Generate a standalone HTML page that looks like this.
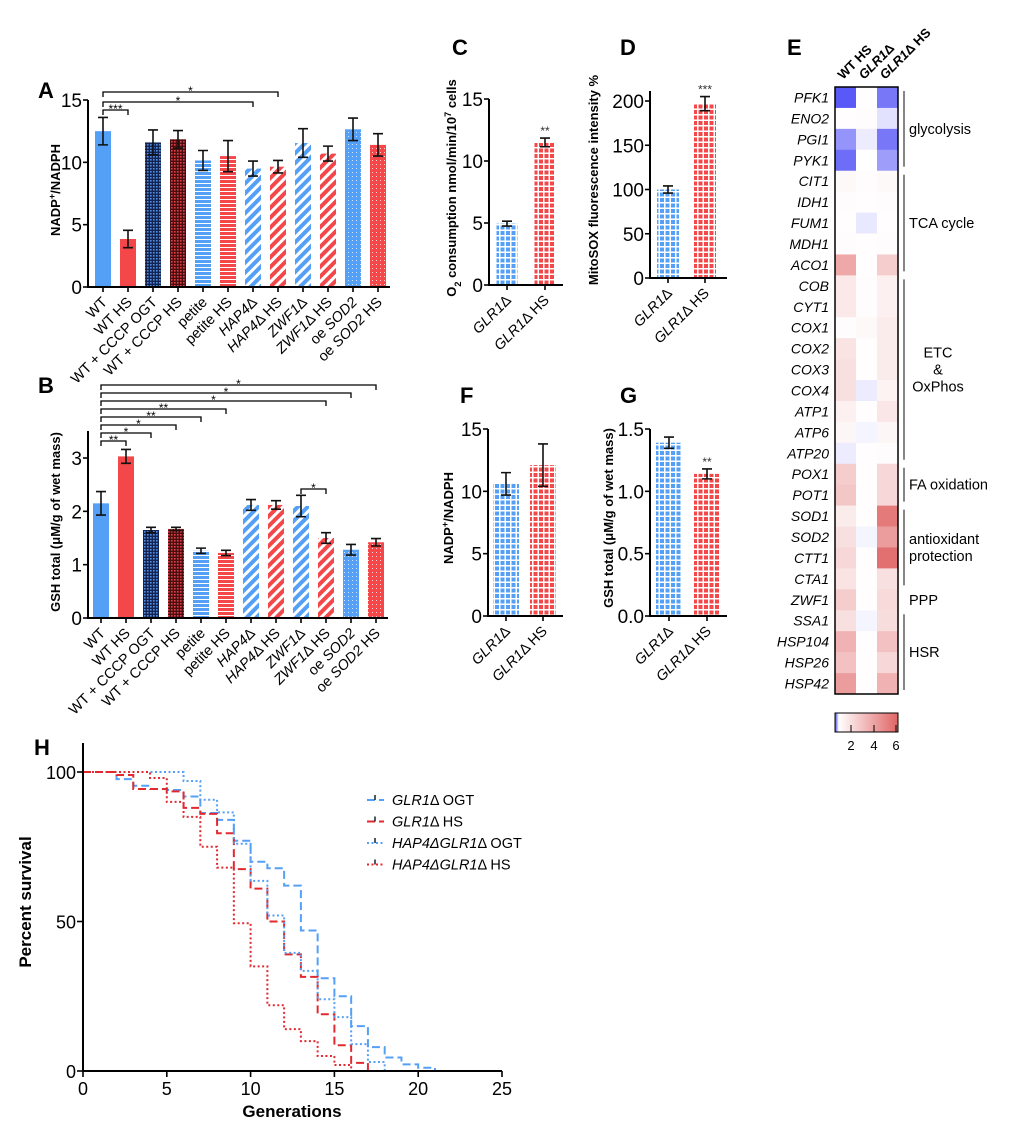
<!DOCTYPE html>
<html><head><meta charset="utf-8">
<style>
html,body{margin:0;padding:0;background:#fff;}
svg{display:block;font-family:"Liberation Sans",Arial,sans-serif;}
</style></head>
<body>
<svg id="fig" width="1020" height="1137" viewBox="0 0 1020 1137" xmlns="http://www.w3.org/2000/svg">
<defs>
  <pattern id="p-checkB" width="3" height="3" patternUnits="userSpaceOnUse"><rect width="3" height="3" fill="#14234f"/><rect width="1.6" height="1.6" fill="#4f8fe6"/></pattern>
  <pattern id="p-checkR" width="3" height="3" patternUnits="userSpaceOnUse"><rect width="3" height="3" fill="#4a0d10"/><rect width="1.6" height="1.6" fill="#e04045"/></pattern>
  <pattern id="p-hB" width="4" height="4" patternUnits="userSpaceOnUse"><rect width="4" height="4" fill="#55a0f7"/><rect y="3" width="4" height="1" fill="#fff"/></pattern>
  <pattern id="p-hR" width="4" height="4" patternUnits="userSpaceOnUse"><rect width="4" height="4" fill="#f4474a"/><rect y="3" width="4" height="1" fill="#fff"/></pattern>
  <pattern id="p-dB" width="7" height="7" patternUnits="userSpaceOnUse" patternTransform="rotate(45)"><rect width="7" height="7" fill="#fff"/><rect width="4" height="7" fill="#55a0f7"/></pattern>
  <pattern id="p-dR" width="7" height="7" patternUnits="userSpaceOnUse" patternTransform="rotate(45)"><rect width="7" height="7" fill="#fff"/><rect width="4" height="7" fill="#f4474a"/></pattern>
  <pattern id="p-oB" width="4" height="4" patternUnits="userSpaceOnUse"><rect width="4" height="4" fill="#55a0f7"/><rect width="1" height="1" fill="#cfe3ff"/></pattern>
  <pattern id="p-oR" width="4" height="4" patternUnits="userSpaceOnUse"><rect width="4" height="4" fill="#f4474a"/><rect width="1" height="1" fill="#ffd0d0"/></pattern>
  <pattern id="p-gB" width="5.5" height="5.5" patternUnits="userSpaceOnUse"><rect width="5.5" height="5.5" fill="#fff"/><rect width="4" height="4" fill="#55a0f7"/></pattern>
  <pattern id="p-gR" width="5.5" height="5.5" patternUnits="userSpaceOnUse"><rect width="5.5" height="5.5" fill="#fff"/><rect width="4" height="4" fill="#f4474a"/></pattern>
  <linearGradient id="cbar" x1="0" x2="1" y1="0" y2="0">
    <stop offset="0" stop-color="#3c3cf5"/><stop offset="0.06" stop-color="#fff"/><stop offset="1" stop-color="#e06464"/>
  </linearGradient>
</defs>
</svg>
<script>
// ---------- DATA ----------
const catA = ["WT","WT HS","WT + CCCP OGT","WT + CCCP HS","petite","petite HS","HAP4Δ","HAP4Δ HS","ZWF1Δ","ZWF1Δ HS","oe SOD2","oe SOD2 HS"];
const valA = [12.5,3.85,11.6,11.85,10.15,10.5,9.5,9.65,11.55,10.7,12.65,11.4];
const errA = [1.1,0.7,1.0,0.7,0.8,1.25,0.6,0.5,1.15,0.6,0.9,0.9];
const valB = [2.15,3.03,1.65,1.67,1.26,1.22,2.12,2.12,2.1,1.5,1.28,1.42];
const errB = [0.22,0.13,0.05,0.03,0.05,0.05,0.1,0.08,0.2,0.1,0.1,0.07];
const catCG = ["GLR1Δ","GLR1Δ HS"];
const valC = [4.95,11.5]; const errC=[0.2,0.35];
const valD = [100,197]; const errD=[4,8];
const valF = [10.6,12.1]; const errF=[0.9,1.7];
const valG = [1.39,1.14]; const errG=[0.045,0.04];
const ticksA=[0,5,10,15], ticksB=[0,1,2,3], ticksC=[0,5,10,15], ticksD=[0,50,100,150,200], ticksG=[0,0.5,1.0,1.5];
const genes = ["PFK1","ENO2","PGI1","PYK1","CIT1","IDH1","FUM1","MDH1","ACO1","COB","CYT1","COX1","COX2","COX3","COX4","ATP1","ATP6","ATP20","POX1","POT1","SOD1","SOD2","CTT1","CTA1","ZWF1","SSA1","HSP104","HSP26","HSP42"];
const heatWTHS = [0.15,1.05,0.45,0.25,1.2,1.1,1.05,1.1,3.8,1.7,1.7,1.1,1.9,2.0,2.0,1.5,1.3,0.9,2.6,2.8,1.6,2.0,2.3,1.9,2.6,2.0,3.5,3.0,4.2];
const heatGLR = [1.05,1.1,0.9,1.0,1.1,1.05,0.88,1.05,1.05,1.1,1.1,1.2,1.05,1.05,0.9,1.05,0.95,1.05,1.05,1.05,1.05,0.95,1.05,1.05,1.05,0.95,1.05,1.05,1.05];
const heatGLRHS = [0.3,0.85,0.3,0.5,1.2,1.1,1.05,1.1,2.6,1.5,1.5,1.6,1.6,1.6,1.4,1.8,1.3,1.1,2.3,2.3,5.3,4.2,5.6,2.0,2.2,2.1,3.0,2.3,3.5];
const survGLR_OGT = [100,100,97.6,95.4,94.3,94,91.8,86.3,84,77,70,67.8,62,47,31,25,15,8,4.5,2.2,1.1];
const survGLR_HS = [100,100,99,94.3,94.3,93.5,88,86,79.5,67.5,61,50,39,31.5,19,8.6,2.7];
const survHAP_OGT = [100,100,100,100,100,100,97,90.7,86.5,76,63.6,52,39.5,33.5,24,18,9,3];
const survHAP_HS = [100,100,100,100,98,90,85,75,68,49.4,35,22,14,10,5,2];

// ---------- HELPERS ----------
const NS="http://www.w3.org/2000/svg";
const svg=document.getElementById('fig');
function mk(tag,attrs,parent){const e=document.createElementNS(NS,tag);for(const k in attrs)e.setAttribute(k,attrs[k]);(parent||svg).appendChild(e);return e;}
function txt(s,attrs,parent){const e=mk('text',attrs,parent);e.textContent=s;return e;}
function line(x1,y1,x2,y2,w,parent){return mk('line',{x1,y1,x2,y2,stroke:'#000','stroke-width':w||1.5},parent);}
function richLabel(label,x,y,size,parent){
  const t=mk('text',{x:0,y:0,'font-size':size,'text-anchor':'end',transform:`translate(${x},${y}) rotate(-45)`},parent);
  const m=label.match(/^(oe )?([A-Z0-9]+\d)(Δ?)(.*)$/);
  const italicGene = m && /\d/.test(m[2]) ;
  if(italicGene){
    if(m[1]){const a=mk('tspan',{},t);a.textContent=m[1];}
    const b=mk('tspan',{'font-style':'italic'},t);b.textContent=m[2];
    const c=mk('tspan',{},t);c.textContent=m[3]+m[4];
  } else t.textContent=label;
  
  
  return t;
}
function letter(s,x,y){const t=txt(s,{x,y,'font-size':22,'font-weight':'bold'});
  
  }
function yTitle(parts,x,y,size){
  const t=mk('text',{x:0,y:0,'font-size':size,'font-weight':'bold','text-anchor':'middle',transform:`translate(${x},${y}) rotate(-90)`});
  parts.forEach(p=>{const s=mk('tspan',p.sup?{'baseline-shift':'super','font-size':size*0.7}:(p.sub?{'baseline-shift':'sub','font-size':size*0.7}:{}),t);s.textContent=p.t;});
  
  
}
function bracket(x1,x2,y,stars,g){
  const p=mk('path',{d:`M${x1},${y+5}V${y}H${x2}V${y+5}`,fill:'none',stroke:'#000','stroke-width':1.3},g);
  
  
  const t=txt(stars,{x:(x1+x2)/2,y:y+3,'font-size':12,'text-anchor':'middle'},g);
  
  
}
function barChart(o){
  const g=mk('g',{});
  
  
  const ys=v=>o.y0-(v-o.vmin)/(o.vmax-o.vmin)*(o.y0-o.y1);
  const xs=i=>o.xStart+i*o.step;
  o.vals.forEach((v,i)=>{
    const r=mk('rect',{x:xs(i)-o.bw/2,y:ys(v),width:o.bw,height:o.y0-ys(v),fill:o.fills[i]},g);
    
    
    const e=o.errs[i];
    const ep=mk('path',{d:`M${xs(i)},${ys(v+e)}V${ys(v-e)}M${xs(i)-5},${ys(v+e)}H${xs(i)+5}M${xs(i)-5},${ys(v-e)}H${xs(i)+5}`,stroke:'#111','stroke-width':1.6,fill:'none'},g);
    
    
  });
  const ax=mk('path',{d:`M${o.ax},${o.axTop}V${o.y0}H${o.axEnd}`,stroke:'#000','stroke-width':2,fill:'none'},g);
  
  
  o.ticks.forEach((t,k)=>{
    line(o.ax-5,ys(t),o.ax,ys(t),1.6,g);
    const lb=txt(o.tickLabels?o.tickLabels[k]:String(t),{x:o.ax-6,y:ys(t)+7,'font-size':o.tickSize||19,'text-anchor':'end'},g);
    
    
  });
  o.cats.forEach((c,i)=>{line(xs(i),o.y0,xs(i),o.y0+5,1.6,g);richLabel(c,xs(i)+5,o.y0+16,o.labelSize||14.5,g);});
  if(o.stars) o.stars.forEach(s=>{const t=txt(s.s,{x:xs(s.i),y:ys(o.vals[s.i]+o.errs[s.i])-3,'font-size':12,'text-anchor':'middle',fill:'#333'},g);
    
    });
  return {g,xs,ys};
}
const fills12=["#55a0f7","#f4474a","url(#p-checkB)","url(#p-checkR)","url(#p-hB)","url(#p-hR)","url(#p-dB)","url(#p-dR)","url(#p-dB)","url(#p-dR)","url(#p-oB)","url(#p-oR)"];

// ---------- PANEL A ----------
letter("A",38,98);
const A=barChart({name:'panel-a-chart',cats:catA,vals:valA,errs:errA,fills:fills12,vmin:0,vmax:15,y0:287,y1:100,ax:88,axTop:100,axEnd:390,xStart:103,step:25,bw:16,ticks:ticksA});
bracket(A.xs(0),A.xs(7),92,"*",A.g);
bracket(A.xs(0),A.xs(6),102,"*",A.g);
bracket(A.xs(0),A.xs(1),110,"***",A.g);
yTitle([{t:"NADP"},{t:"+",sup:1},{t:"/NADPH"}],60,190,13);

// ---------- PANEL B ----------
letter("B",38,393);
const B=barChart({name:'panel-b-chart',cats:catA,vals:valB,errs:errB,fills:fills12,vmin:0,vmax:3,y0:618,y1:458,ax:88,axTop:431,axEnd:388,xStart:101,step:25,bw:16,ticks:ticksB});
[[11,385],[10,393],[9,401],[5,409],[4,417],[3,425],[2,433]].forEach(([i,y],k)=>bracket(B.xs(0),B.xs(i),y,(i==5||i==4)?"**":"*",B.g));
bracket(B.xs(0),B.xs(1),441,"**",B.g);
bracket(B.xs(8),B.xs(9),489,"*",B.g);
yTitle([{t:"GSH total (μM/g of wet mass)"}],60,522,13);

// ---------- PANEL C ----------
letter("C",452,55);
barChart({name:'panel-c-chart',cats:catCG,vals:valC,errs:errC,fills:["url(#p-gB)","url(#p-gR)"],vmin:0,vmax:15,y0:285,y1:99,ax:489,axTop:99,axEnd:563,xStart:507,step:38,bw:21,ticks:ticksC,stars:[{i:1,s:"**"}]});
yTitle([{t:"O"},{t:"2",sub:1},{t:" consumption nmol/min/10"},{t:"7",sup:1},{t:" cells"}],456,188,13);

// ---------- PANEL D ----------
letter("D",620,55);
barChart({name:'panel-d-chart',cats:catCG,vals:valD,errs:errD,fills:["url(#p-gB)","url(#p-gR)"],vmin:0,vmax:200,y0:278,y1:101,ax:650,axTop:91,axEnd:727,xStart:668,step:37,bw:22,ticks:ticksD,stars:[{i:1,s:"***"}]});
yTitle([{t:"MitoSOX fluorescence intensity %"}],598,180,13);

// ---------- PANEL F ----------
letter("F",460,403);
barChart({name:'panel-f-chart',cats:catCG,vals:valF,errs:errF,fills:["url(#p-gB)","url(#p-gR)"],vmin:0,vmax:15,y0:616,y1:429,ax:488,axTop:429,axEnd:563,xStart:506,step:37,bw:26,ticks:ticksC});
yTitle([{t:"NADP"},{t:"+",sup:1},{t:"/NADPH"}],453,518,13);

// ---------- PANEL G ----------
letter("G",620,403);
barChart({name:'panel-g-chart',cats:catCG,vals:valG,errs:errG,fills:["url(#p-gB)","url(#p-gR)"],vmin:0,vmax:1.5,y0:616,y1:429,ax:650,axTop:429,axEnd:727,xStart:669,step:38,bw:26,ticks:ticksG,tickLabels:["0.0","0.5","1.0","1.5"],stars:[{i:1,s:"**"}]});
yTitle([{t:"GSH total (μM/g of wet mass)"}],613,518,13);

// ---------- PANEL E (heatmap) ----------
letter("E",787,55);
const hx0=835, hy0=87, cw=21, rh=607/29;
const cols=[heatWTHS,heatGLR,heatGLRHS];
function heatColor(v){
  if(v<1){const t=1-Math.max(v,0);return `rgb(${Math.round(255-195*t)},${Math.round(255-195*t)},${Math.round(255-10*t)})`;}
  const t=Math.min((v-1)/5,1);return `rgb(${Math.round(255-31*t)},${Math.round(255-155*t)},${Math.round(255-155*t)})`;
}
const hg=mk('g',{});


cols.forEach((col,c)=>col.forEach((v,r)=>{
  const cell=mk('rect',{x:hx0+c*cw,y:hy0+r*rh,width:cw+0.3,height:rh+0.3,fill:heatColor(v)},hg);
  
  
}));
const hb=mk('rect',{x:hx0,y:hy0,width:3*cw,height:29*rh,fill:'none',stroke:'#000','stroke-width':1.5},hg);


genes.forEach((gname,r)=>{const t=txt(gname,{x:829,y:hy0+r*rh+rh/2+5,'font-size':14,'font-style':'italic','text-anchor':'end'},hg);
  
  });
[["WT HS",""],["GLR1","Δ"],["GLR1","Δ HS"]].forEach((p,c)=>{
  const t=mk('text',{x:0,y:0,'font-size':13,'font-weight':'bold',transform:`translate(${hx0+c*cw+8},${80}) rotate(-45)`},hg);
  if(c==0){t.textContent=p[0];}else{const a=mk('tspan',{'font-style':'italic'},t);a.textContent=p[0];const b=mk('tspan',{},t);b.textContent=p[1];}
  
  
});
const groups=[[0,3,"glycolysis"],[4,8,"TCA cycle"],[9,17,"ETC\n&\nOxPhos"],[18,19,"FA oxidation"],[20,23,"antioxidant\nprotection"],[24,24,"PPP"],[25,28,"HSR"]];
groups.forEach(([a,b,lab])=>{
  if(lab!=="PPP"){const l=line(904,hy0+a*rh+4,904,hy0+(b+1)*rh-4,1.3,hg);l.setAttribute('stroke','#444');}
  const lines=lab.split("\n");const cy=hy0+(a+b+1)/2*rh;
  const center=lines.length==3;
  lines.forEach((s,k)=>{const t=txt(s,{x:center?938:909,y:cy+5+(k-(lines.length-1)/2)*17,'font-size':14.5,'text-anchor':center?'middle':'start'},hg);
    
    });
});
const cb=mk('rect',{x:835,y:713,width:63,height:19,fill:'url(#cbar)',stroke:'#000','stroke-width':1},hg);


[[2,851],[4,874],[6,896]].forEach(([v,x])=>{line(x,725,x,732,1,hg);const t=txt(String(v),{x,y:750,'font-size':13,'text-anchor':'middle'},hg);
  
  });

// ---------- PANEL H (survival) ----------
letter("H",34,755);
const hx=g=>83+g*(419/25), hy=p=>1071-p*2.99;
const sg=mk('g',{});


const series=[[survGLR_OGT,'#55a0f7','8,4','glr1-ogt-line'],[survGLR_HS,'#e02a30','8,4','glr1-hs-line'],[survHAP_OGT,'#55a0f7','2,2.5','hap4-glr1-ogt-line'],[survHAP_HS,'#e02a30','2,2.5','hap4-glr1-hs-line']];
series.forEach(([arr,col,dash,name])=>{
  let d=`M${hx(0)},${hy(arr[0])}`;
  arr.forEach((v,i)=>{if(i>0)d+=`V${hy(v)}`;d+=`H${hx(i+1)}`;});
  d+=`V${hy(0)}`;
  const p=mk('path',{d,fill:'none',stroke:col,'stroke-width':2,'stroke-dasharray':dash},sg);
  
  
});
const hax=mk('path',{d:`M83,743V1071H502`,stroke:'#000','stroke-width':2,fill:'none'},sg);


[0,50,100].forEach(v=>{line(77,hy(v),83,hy(v),1.6,sg);const t=txt(String(v),{x:76,y:hy(v)+7,'font-size':18,'text-anchor':'end'},sg);
  
  });
[0,5,10,15,20,25].forEach(v=>{line(hx(v),1071,hx(v),1077,1.6,sg);const t=txt(String(v),{x:hx(v),y:1095,'font-size':18,'text-anchor':'middle'},sg);
  
  });
const xt=txt("Generations",{x:292,y:1117,'font-size':17,'font-weight':'bold','text-anchor':'middle'},sg);


yTitle([{t:"Percent survival"}],31,902,17);
const legend=[["GLR1","Δ OGT",'#55a0f7','8,4'],["GLR1","Δ HS",'#e02a30','8,4'],["HAP4ΔGLR1","Δ OGT",'#55a0f7','2,2.5'],["HAP4ΔGLR1","Δ HS",'#e02a30','2,2.5']];
legend.forEach(([a,b,col,dash],k)=>{
  const y=800+k*21.5;
  const lg=mk('g',{},sg);
  
  
  mk('line',{x1:367,y1:y,x2:384,y2:y,stroke:col,'stroke-width':2,'stroke-dasharray':dash},lg);
  mk('line',{x1:375,y1:y-5,x2:375,y2:y,stroke:'#123','stroke-width':1.5},lg);
  const t=mk('text',{x:392,y:y+5,'font-size':14.5},lg);
  const i1=mk('tspan',{'font-style':'italic'},t);i1.textContent=a;
  const i2=mk('tspan',{},t);i2.textContent=b;
});
</script>
</body></html>
